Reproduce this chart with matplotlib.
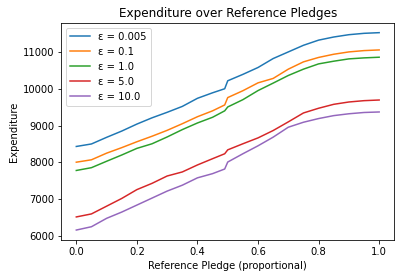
import numpy as np
import matplotlib
matplotlib.use("Agg")
import matplotlib.pyplot as plt

# reference pledge (proportional)
x = [0.0, 0.05, 0.1, 0.15, 0.2, 0.25, 0.3, 0.35, 0.4, 0.45, 0.49,
     0.5, 0.55, 0.6, 0.65, 0.7, 0.75, 0.8, 0.85, 0.9, 0.95, 1.0]

eps_005 = [8432, 8500, 8680, 8850, 9040, 9210, 9360, 9520, 9740, 9890, 10000,
           10216, 10390, 10577, 10820, 11000, 11180, 11320, 11405, 11468, 11505, 11523]
eps_01 = [8005, 8070, 8250, 8400, 8560, 8710, 8870, 9050, 9240, 9400, 9560,
          9760, 9946, 10160, 10280, 10532, 10730, 10850, 10937, 11000, 11036, 11054]
eps_1 = [7780, 7856, 8030, 8200, 8380, 8505, 8690, 8890, 9070, 9225, 9400,
         9505, 9703, 9950, 10153, 10360, 10532, 10675, 10748, 10811, 10838, 10856]
eps_5 = [6518, 6600, 6810, 7020, 7260, 7430, 7630, 7740, 7930, 8100, 8234,
         8340, 8505, 8665, 8865, 9100, 9342, 9470, 9577, 9640, 9676, 9694]
eps_10 = [6162, 6252, 6480, 6650, 6840, 7030, 7220, 7380, 7580, 7694, 7820,
          8009, 8234, 8450, 8685, 8955, 9090, 9190, 9270, 9320, 9355, 9369]

series = [(eps_005, "ε = 0.005"), (eps_01, "ε = 0.1"), (eps_1, "ε = 1.0"),
          (eps_5, "ε = 5.0"), (eps_10, "ε = 10.0")]

fig = plt.figure(figsize=(405/72, 278/72), dpi=72)
ax = fig.add_subplot(111)
fig.subplots_adjust(left=0.151, right=0.9736, top=0.918, bottom=0.137)

for y, lab in series:
    ax.plot(x, y, label=lab)

ax.set_title("Expenditure over Reference Pledges")
ax.set_xlabel("Reference Pledge (proportional)")
ax.set_ylabel("Expenditure")
ax.legend(loc="upper left")

fig.savefig("out.png", dpi=72)
